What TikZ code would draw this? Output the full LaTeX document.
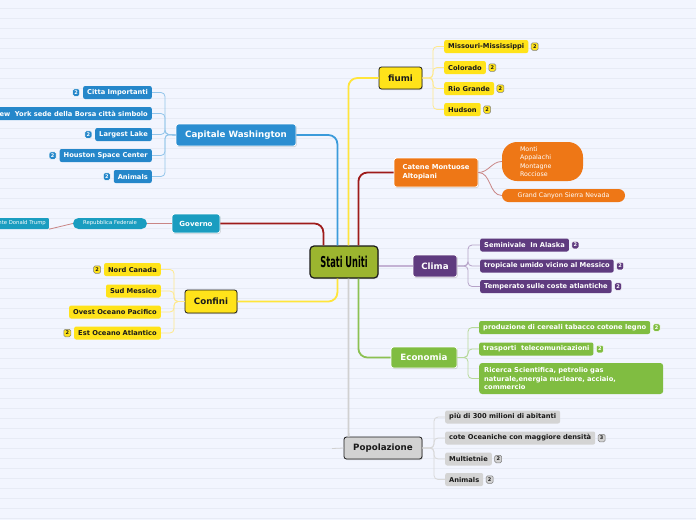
\documentclass[tikz,border=0pt]{standalone}
\usepackage{fontspec}
\setmainfont{DejaVu Sans}
\usetikzlibrary{calc,shadows}
\definecolor{bg}{HTML}{F2F5FE}
\definecolor{bgline}{HTML}{E7EBF5}
\definecolor{capblue}{HTML}{2B8ED1}
\definecolor{kidblue}{HTML}{2587CA}
\definecolor{teal}{HTML}{1A9DC0}
\definecolor{orng}{HTML}{EE7716}
\definecolor{purp}{HTML}{5F3B7F}
\definecolor{grn}{HTML}{80BD41}
\definecolor{yel}{HTML}{FFE31A}
\definecolor{gry}{HTML}{D2D2D2}
\definecolor{olive}{HTML}{9CB52F}
\definecolor{dred}{HTML}{9E1B1B}
\definecolor{lblue}{HTML}{3B9BDB}
\definecolor{lyel}{HTML}{FFE53B}
\definecolor{lgrn}{HTML}{8CC152}
\definecolor{lgry}{HTML}{D0D0D0}
\definecolor{lpurp}{HTML}{C4B2D4}
\definecolor{rosy}{HTML}{C98585}
\definecolor{tblue}{HTML}{93C5EA}
\definecolor{tyel}{HTML}{FFE98A}
\definecolor{tpurp}{HTML}{B6A3C8}
\definecolor{tgrn}{HTML}{B7D99A}
\definecolor{tgry}{HTML}{D8D8D8}
\definecolor{dtext}{HTML}{1A1A1A}
\begin{document}
\begin{tikzpicture}[x=1pt,y=-1pt,
  shad/.style={drop shadow={shadow xshift=0.8pt,shadow yshift=-1pt,opacity=0.3}},
  mainnode/.style={rounded corners=2.5pt, minimum height=22pt, inner sep=0pt,
     font=\fontsize{8.7}{10}\selectfont\bfseries, line width=0.8pt, shad},
  lightmain/.style={mainnode, draw=white, text=white},
  darkmain/.style={mainnode, draw=dtext, text=dtext},
  kid/.style={rounded corners=2pt, minimum height=13pt, inner xsep=4pt, inner ysep=0pt,
     font=\fontsize{6.7}{8}\selectfont\bfseries},
  bluekid/.style={kid, fill=kidblue, text=white},
  yelkid/.style={kid, fill=yel, text=dtext},
  purpkid/.style={kid, fill=purp, text=white},
  grnkid/.style={kid, fill=grn, text=white},
  grykid/.style={kid, fill=gry!95!white, text=dtext},
  badge/.style={rounded corners=1.5pt, minimum width=7pt, minimum height=7.5pt, inner sep=0pt,
     font=\fontsize{5}{5}\selectfont\bfseries, line width=0.5pt},
  bluebadge/.style={badge, fill=kidblue, draw=white, text=white},
  yelbadge/.style={badge, fill=yel, draw=gray, text=dtext},
  purpbadge/.style={badge, fill=purp, draw=white, text=white},
  grnbadge/.style={badge, fill=grn, draw=white, text=white},
  grybadge/.style={badge, fill=gry, draw=gray, text=dtext},
  mainline/.style={line width=1.8pt, rounded corners=9pt},
  treeline/.style={line width=0.8pt, rounded corners=4pt},
  small/.style={font=\fontsize{5.3}{6}\selectfont, text=white, inner ysep=0pt, minimum height=11pt}
]
\useasboundingbox (0,0) rectangle (696,520);
\fill[bg] (0,0) rectangle (696,520);
\foreach \yy in {8,18,...,518} \draw[bgline, line width=0.8pt] (0,\yy) -- (696,\yy);
\clip (0,0) rectangle (696,520);

% ---------- main nodes ----------
\node[draw=dtext, line width=1.2pt, fill=olive, rounded corners=4pt, minimum width=68pt, minimum height=32pt, inner sep=0pt, text=black, shad] (cen) at (344,262)
  {\scalebox{0.55}[1]{\fontsize{15}{16}\selectfont\bfseries Stati Uniti}};
\node[lightmain, fill=capblue, minimum width=120pt] (cap) at (236,135) {Capitale Washington};
\node[lightmain, fill=teal, minimum width=48pt, minimum height=19pt, font=\fontsize{7}{8}\selectfont\bfseries] (gov) at (196,223.5) {Governo};
\node[darkmain, fill=yel, minimum width=52pt, minimum height=23pt] (con) at (211,301.5) {Confini};
\node[darkmain, fill=yel, minimum width=43pt] (fiu) at (400.5,78) {fiumi};
\node[lightmain, fill=orng, minimum width=84pt, minimum height=29pt, align=left, font=\fontsize{6.8}{9}\selectfont\bfseries] (cat) at (436,172.5) {Catene Montuose\\Altopiani};
\node[lightmain, fill=purp, minimum width=44pt] (cli) at (435,266) {Clima};
\node[lightmain, fill=grn, minimum width=66pt, minimum height=21pt] (eco) at (424,357.5) {Economia};
\node[darkmain, fill=gry, minimum width=78pt] (pop) at (383,448) {Popolazione};

% ---------- main connectors ----------
\draw[mainline, lblue] ($(cen.north west)+(28,0)$) |- (cap.east);
\draw[mainline, dred] ($(cen.north west)+(14,0)$) |- (gov.east);
\draw[mainline, lyel] ($(cen.north west)+(39,0)$) |- (fiu.west);
\draw[mainline, dred] ($(cen.north west)+(49,0)$) |- (cat.west);
\draw[line width=1.2pt, lpurp] (cli.west) -- (cli.west -| cen.east);
\draw[mainline, lyel] ($(cen.south west)+(28,0)$) |- (con.east);
\draw[mainline, lgrn] ($(cen.south west)+(49,0)$) |- (eco.west);
\draw[line width=1.8pt, lgry] ($(cen.south west)+(39,0)$) -- ($(pop.north west)+(5,0)$);
\coordinate (popstub) at (332,448.5);
\draw[line width=0.8pt, lgry] (pop.west) -- (popstub);

% ---------- Capitale Washington ----------
\node[bluekid, anchor=east] (cit) at (152,92.5) {Citta Importanti};
\node[bluekid, anchor=east] (ny) at (152,113.5) {New\ \ York sede della Borsa città simbolo};
\node[bluekid, anchor=east] (lake) at (152,134.5) {Largest Lake};
\node[bluekid, anchor=east] (hou) at (152,155.5) {Houston Space Center};
\node[bluekid, anchor=east] (ani) at (152,176.5) {Animals};
\node[bluebadge, anchor=east] (citb) at ($(cit.west)+(-3,0)$) {2};
\node[bluebadge, anchor=east] (lakeb) at ($(lake.west)+(-3,0)$) {2};
\node[bluebadge, anchor=east] (houb) at ($(hou.west)+(-3,0)$) {2};
\node[bluebadge, anchor=east] (anib) at ($(ani.west)+(-3,0)$) {2};
\coordinate (capT) at (165,134.5);
\foreach \k in {cit,ny,lake,hou,ani} \draw[treeline, tblue] (cap.west) -- (capT) |- (\k.east);

% ---------- Governo ----------
\node[small, fill=teal, rounded corners=5.5pt, minimum width=74pt] (rep) at (110,223.5) {Repubblica Federale};
\node[small, fill=teal, rounded corners=1pt, anchor=east, inner xsep=3pt] (trump) at (49,223.5) {Presidente Donald Trump};
\draw[line width=0.8pt, rosy] (gov.west) -- (rep.east);
\draw[line width=0.8pt, rosy] (rep.west) -- (trump.south east);

% ---------- Confini ----------
\node[yelkid, anchor=east] (nord) at (161,269.5) {Nord Canada};
\node[yelkid, anchor=east] (sud) at (161,291) {Sud Messico};
\node[yelkid, anchor=east] (ovest) at (161,312) {Ovest Oceano Pacifico};
\node[yelkid, anchor=east] (est) at (161,333) {Est Oceano Atlantico};
\node[yelbadge, anchor=east] (nordb) at ($(nord.west)+(-3,0)$) {2};
\node[yelbadge, anchor=east] (estb) at ($(est.west)+(-3,0)$) {2};
\coordinate (conT) at (174,301.5);
\foreach \k in {nord,sud,ovest,est} \draw[treeline, tyel] (con.west) -- (conT) |- (\k.east);

% ---------- fiumi ----------
\node[yelkid, anchor=west] (mis) at (444,46.5) {Missouri-Mississippi};
\node[yelkid, anchor=west] (col) at (444,67.5) {Colorado};
\node[yelkid, anchor=west] (rio) at (444,88.5) {Rio Grande};
\node[yelkid, anchor=west] (hud) at (444,109.5) {Hudson};
\foreach \k in {mis,col,rio,hud} \node[yelbadge, anchor=west] (\k b) at ($(\k.east)+(2.5,0)$) {2};
\coordinate (fiuT) at (433,78);
\foreach \k in {mis,col,rio,hud} \draw[treeline, tyel] (fiu.east) -- (fiuT) |- (\k.west);

% ---------- Catene ----------
\node[fill=orng, rounded corners=15pt, minimum height=39pt, inner xsep=18pt, inner ysep=0pt, text width=45pt, align=left, text=white, font=\fontsize{6.3}{8.3}\selectfont] (mon) at (542.5,161.5) {Monti\\Appalachi\\Montagne\\Rocciose};
\node[fill=orng, rounded corners=6.5pt, minimum width=123pt, minimum height=13pt, inner sep=0pt, text=white, font=\fontsize{6.3}{8}\selectfont] (gc) at (563.5,195.5) {Grand Canyon Sierra Nevada};
\draw[line width=0.8pt, rosy] (cat.east) to[out=0,in=180] (mon.west);
\draw[line width=0.8pt, rosy] (cat.east) to[out=0,in=180] (gc.west);

% ---------- Clima ----------
\node[purpkid, anchor=west] (sem) at (480,245) {Seminivale\ \ In Alaska};
\node[purpkid, anchor=west] (tro) at (480,266) {tropicale umido vicino al Messico};
\node[purpkid, anchor=west] (tem) at (480,286.5) {Temperato sulle coste atlantiche};
\foreach \k in {sem,tro,tem} \node[purpbadge, anchor=west] (\k b) at ($(\k.east)+(2.5,0)$) {2};
\coordinate (cliT) at (468,266);
\foreach \k in {sem,tro,tem} \draw[treeline, tpurp] (cli.east) -- (cliT) |- (\k.west);

% ---------- Economia ----------
\node[grnkid, anchor=west] (pro) at (479,327.5) {produzione di cereali tabacco cotone legno};
\node[grnkid, anchor=west] (tra) at (479,349) {trasporti\ \ telecomunicazioni};
\node[grnkid, anchor=west, text width=174pt, align=left, inner xsep=5pt, minimum height=31pt, rounded corners=3pt, font=\fontsize{6.7}{8.5}\selectfont\bfseries] (ric) at (479,378.5) {Ricerca Scientifica, petrolio gas\\naturale,energia nucleare, acciaio,\\commercio};
\node[grnbadge, anchor=west] (prob) at ($(pro.east)+(2.5,0)$) {2};
\node[grnbadge, anchor=west] (trab) at ($(tra.east)+(2.5,0)$) {2};
\coordinate (ecoT) at (468,357.5);
\foreach \k in {pro,tra,ric} \draw[treeline, tgrn] (eco.east) -- (ecoT) |- (\k.west);

% ---------- Popolazione ----------
\node[grykid, anchor=west] (piu) at (445,417) {più di 300 milioni di abitanti};
\node[grykid, anchor=west] (cote) at (445,438) {cote Oceaniche con maggiore densità};
\node[grykid, anchor=west] (mul) at (445,459) {Multietnie};
\node[grykid, anchor=west] (ani2) at (445,479.5) {Animals};
\node[grybadge, anchor=west] (coteb) at ($(cote.east)+(2.5,0)$) {3};
\node[grybadge, anchor=west] (mulb) at ($(mul.east)+(2.5,0)$) {2};
\node[grybadge, anchor=west] (ani2b) at ($(ani2.east)+(2.5,0)$) {2};
\coordinate (popT) at (434,448);
\foreach \k in {piu,cote,mul,ani2} \draw[treeline, tgry] (pop.east) -- (popT) |- (\k.west);
\end{tikzpicture}
\end{document}
